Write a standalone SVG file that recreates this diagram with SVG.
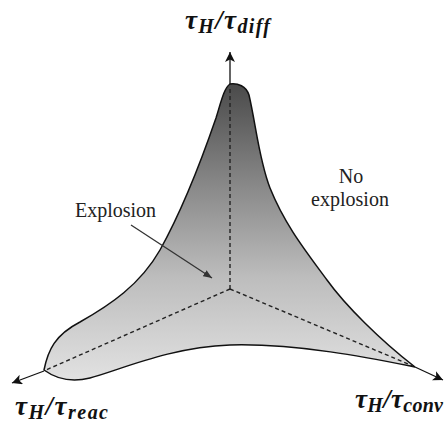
<svg xmlns="http://www.w3.org/2000/svg" width="445" height="427" viewBox="0 0 445 427">
<defs>
<linearGradient id="g" x1="0" y1="84" x2="0" y2="382" gradientUnits="userSpaceOnUse">
<stop offset="0" stop-color="#4a4a4a"/>
<stop offset="0.35" stop-color="#8a8a8a"/>
<stop offset="0.65" stop-color="#bdbdbd"/>
<stop offset="1" stop-color="#e2e2e2"/>
</linearGradient>
<marker id="ah" viewBox="0 0 10 10" refX="10" refY="5" markerWidth="11" markerHeight="10" markerUnits="userSpaceOnUse" orient="auto">
<path d="M0,0 L10,5 L0,10 L2.5,5 Z" fill="#111"/>
</marker>
<marker id="ah2" viewBox="0 0 10 8" refX="10" refY="4" markerWidth="9" markerHeight="7" markerUnits="userSpaceOnUse" orient="auto">
<path d="M0,0 L10,4 L0,8 Z" fill="#333"/>
</marker>
</defs>
<style>
.ax{stroke:#111;stroke-width:1.3;fill:none}
.dash{stroke:#222;stroke-width:1.4;stroke-dasharray:4 3;fill:none}
.lbl{font-family:"Liberation Serif","Times New Roman",serif;font-size:20px;fill:#222}
.axl{font-family:"Liberation Serif","Times New Roman",serif;font-weight:bold;font-style:italic;font-size:27px;fill:#111}
.sub{font-size:20px}
</style>
<rect width="445" height="427" fill="#fff"/>
<g id="region">
<path d="M230,84 C238,83 246,86 249,95 C256,125 259,160 270,188 C285,225 305,250 327,280 C345,305 380,340 415,367 C380,360 300,343 230,345 C170,347 120,370 90,378 C70,383 55,378 44,370 C48,350 55,335 80,322 C110,305 140,285 160,250 C185,205 205,150 216,118 C221,102 224,88 230,84 Z" fill="url(#g)" stroke="#111" stroke-width="1.5"/>
</g>
<g id="connectors">
<path class="dash" d="M230,289 L230,86"/>
<path class="dash" d="M230,289 L46,370"/>
<path class="dash" d="M230,289 L413,366"/>
<path class="ax" d="M230,84 L230,52" marker-end="url(#ah)"/>
<path class="ax" d="M44,371 L12,383" marker-end="url(#ah)"/>
<path class="ax" d="M415,367 L443,380" marker-end="url(#ah)"/>
<path d="M131,225 L212,278" stroke="#333" stroke-width="1.3" fill="none" marker-end="url(#ah2)"/>
</g>
<g id="label-diff">
<text class="axl" x="185" y="29" textLength="85">τ<tspan class="sub" dy="4">H</tspan><tspan dy="-4">/τ</tspan><tspan class="sub" dy="4">diff</tspan></text>
</g>
<g id="label-reac">
<text class="axl" x="15" y="415" textLength="93">τ<tspan class="sub" dy="4">H</tspan><tspan dy="-4">/τ</tspan><tspan class="sub" dy="4">reac</tspan></text>
</g>
<g id="label-conv">
<text class="axl" x="355" y="408" textLength="88">τ<tspan class="sub" dy="4">H</tspan><tspan dy="-4">/τ</tspan><tspan class="sub" dy="4">conv</tspan></text>
</g>
<g id="label-explosion">
<text class="lbl" x="75" y="217">Explosion</text>
</g>
<g id="label-noexplosion">
<text class="lbl" x="351" y="183" text-anchor="middle">No</text>
<text class="lbl" x="350" y="206" text-anchor="middle">explosion</text>
</g>
</svg>
